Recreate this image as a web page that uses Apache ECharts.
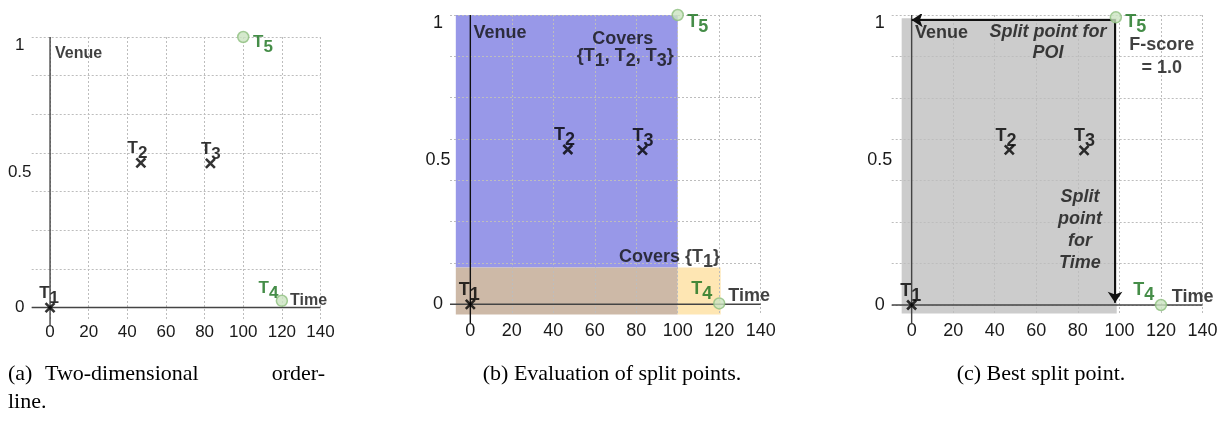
<!DOCTYPE html>
<html>
<head>
<meta charset="utf-8">
<script src="https://cdn.jsdelivr.net/npm/echarts@6/dist/echarts.min.js"></script>
<style>
  html, body { margin: 0; padding: 0; background: #fff; }
  #chart { width: 1227px; height: 422px; }
</style>
</head>
<body>
<div id="chart"></div>
<script>
// ---- axis ticks -------------------------------------------------------
const xTickValues = [0, 20, 40, 60, 80, 100, 120, 140];
const yTickLabelValues = [0, 0.5, 1];
const yGridValues = [0, 1 / 7, 2 / 7, 3 / 7, 4 / 7, 5 / 7, 6 / 7, 1];

// ---- trajectory points (crosses) -------------------------------------
const crossNames = ['T1', 'T2', 'T3'];
const crossTime = [0, 47, 83];
const crossVenue = [0, 0.535, 0.533];

// ---- boundary points (circles), one set per panel ---------------------
const circleNames = ['T4', 'T5'];
const circleTimeA = [120, 100];
const circleVenueA = [0.025, 1];
const circleTimeB = [120, 100];
const circleVenueB = [0.003, 1];
const circleTimeC = [120, 98.3];
const circleVenueC = [0, 0.992];

// ---- coverage boxes in (b): [time from, time to, venue from, venue to] -
const coverT123 = [-7, 100, 0.127, 1];
const coverBoth = [-7, 100, -0.035, 0.127];
const coverT1 = [100, 120.7, -0.035, 0.127];

// ---- best split in (c) -------------------------------------------------
const bestRegion = [-4.8, 98.7, -0.029, 0.989];
const poiSplit = [[98.3, 0.983], [0, 0.983]];
const timeSplit = [[97.9, 0.983], [97.9, 0.008]];

// ---- layout of the three panels ---------------------------------------
const panels = [
  { grid: { left: 31.7, top: 37, width: 288.8, height: 283 }, x: [-9.5, 140], y: [-0.046, 1],
    tickFont: 17, xMargin: 4, tFont: 17, axisName: 16,
    circleTime: circleTimeA, circleVenue: circleVenueA,
    circleOffsets: [[-13.4, -12.7], [19.8, 5.7]] },
  { grid: { left: 450, top: 15, width: 310.7, height: 300 }, x: [-9.8, 140], y: [-0.037, 1],
    tickFont: 18, xMargin: 7, tFont: 18, axisName: 18,
    circleTime: circleTimeB, circleVenue: circleVenueB,
    circleOffsets: [[-17.5, -14.1], [20, 7]] },
  { grid: { left: 891.7, top: 15, width: 310.8, height: 300 }, x: [-9.6, 140], y: [-0.0345, 1],
    tickFont: 18, xMargin: 7, tFont: 18, axisName: 18,
    circleTime: circleTimeC, circleVenue: circleVenueC,
    circleOffsets: [[-17.3, -14.9], [19.8, 5.2]] }
];
const crossOffsets = [[-1, -14], [-3.4, -14], [0.5, -14]];

const SANS = '"Liberation Sans", Arial, sans-serif';
const GREEN = '#16701a';

// "T" followed by a lowered index digit
function subRich(fs, color) {
  return {
    t: { fontSize: fs, fontWeight: 'bold', fontFamily: SANS, color: color },
    s: { fontSize: fs, fontWeight: 'bold', fontFamily: SANS, color: color, padding: [10, 0, 0, 0] }
  };
}
function subText(name) { return '{t|' + name[0] + '}{s|' + name.slice(1) + '}'; }

const grids = [], xAxes = [], yAxes = [], series = [];

panels.forEach((p, i) => {
  grids.push(Object.assign({ containLabel: false }, p.grid));
  xAxes.push({
    type: 'value', gridIndex: i, min: p.x[0], max: p.x[1],
    axisLine: { show: false },
    axisTick: { show: false, customValues: xTickValues },
    axisLabel: { customValues: xTickValues, fontSize: p.tickFont, fontFamily: SANS, color: '#1a1a1a', margin: p.xMargin },
    splitLine: { show: true, lineStyle: { color: '#bdbdbd', type: [2, 2], width: 1 } }
  });
  yAxes.push({
    type: 'value', gridIndex: i, min: p.y[0], max: p.y[1],
    axisLine: { show: false },
    axisTick: { show: false, customValues: yGridValues },
    axisLabel: {
      customValues: yTickLabelValues, fontSize: p.tickFont, fontFamily: SANS, color: '#1a1a1a',
      margin: 12, align: 'center',
      formatter: v => (v === 1 ? '{lo|1}' : String(v)),
      rich: { lo: { fontSize: p.tickFont, fontFamily: SANS, color: '#1a1a1a', padding: [16, 0, 0, 0] } }
    },
    splitLine: { show: true, lineStyle: { color: '#bdbdbd', type: [2, 2], width: 1 } }
  });

  // axis lines through the origin
  series.push({
    type: 'line', xAxisIndex: i, yAxisIndex: i, silent: true, clip: false, z: 3,
    symbol: 'none', lineStyle: { color: '#444', width: 1.4 },
    data: [[p.x[0], 0], [140, 0]]
  });
  series.push({
    type: 'line', xAxisIndex: i, yAxisIndex: i, silent: true, clip: false, z: 3,
    symbol: 'none', lineStyle: { color: i === 1 ? '#111' : '#444', width: 1.4 },
    data: [[0, -0.065], [0, 1]]
  });

  // crosses
  series.push({
    type: 'scatter', xAxisIndex: i, yAxisIndex: i, z: 6, silent: true,
    symbol: 'path://M0,0L10,10M10,0L0,10', symbolSize: 9,
    itemStyle: { color: '#000', borderColor: '#000', borderWidth: 2.6 },
    label: {
      show: true, position: 'inside', formatter: d => subText(d.name), rich: subRich(p.tFont, '#000')
    },
    data: crossNames.map((n, k) => ({
      name: n, value: [crossTime[k], crossVenue[k]], label: { offset: crossOffsets[k] }
    }))
  });

  // circles
  series.push({
    type: 'scatter', xAxisIndex: i, yAxisIndex: i, z: 6, silent: true,
    symbol: 'circle', symbolSize: 11,
    itemStyle: { color: '#cbe4c1', borderColor: '#8dbf7e', borderWidth: 1.5 },
    label: {
      show: true, position: 'inside', formatter: d => subText(d.name), rich: subRich(p.tFont, GREEN)
    },
    data: circleNames.map((n, k) => ({
      name: n, value: [p.circleTime[k], p.circleVenue[k]], label: { offset: p.circleOffsets[k] }
    }))
  });
});

// shaded regions (drawn under the grid lines)
function boxSeries(idx, boxes, colors) {
  return {
    type: 'custom', xAxisIndex: idx, yAxisIndex: idx, z: -1, silent: true,
    renderItem: (params, api) => {
      const a = api.coord([api.value(0), api.value(3)]);
      const b = api.coord([api.value(1), api.value(2)]);
      return { type: 'rect', shape: { x: a[0], y: a[1], width: b[0] - a[0], height: b[1] - a[1] },
               style: { fill: colors[params.dataIndex] } };
    },
    data: boxes
  };
}
series.push(boxSeries(1, [coverT123, coverBoth, coverT1], ['#9898e8', '#cdb9a7', '#fee6b3']));
series.push(boxSeries(2, [bestRegion], ['#cccccc']));

// split arrows
series.push({
  type: 'lines', coordinateSystem: 'cartesian2d', xAxisIndex: 2, yAxisIndex: 2, z: 5, silent: true,
  symbol: ['none', 'arrow'], symbolSize: 11,
  lineStyle: { color: '#111', width: 2, opacity: 1, curveness: 0 },
  data: [{ coords: poiSplit }, { coords: timeSplit }]
});

// text annotations
function note(pos, text, opts) {
  return {
    value: pos, symbolSize: 1,
    label: Object.assign({ show: true, position: 'inside', formatter: text }, opts)
  };
}
function noteSeries(idx, items) {
  return {
    type: 'scatter', xAxisIndex: idx, yAxisIndex: idx, z: 7, silent: true, clip: false,
    itemStyle: { color: 'rgba(0,0,0,0)' },
    label: { show: true, position: 'inside', color: '#111', fontFamily: SANS, fontWeight: 'bold' },
    data: items
  };
}
const bold = fs => ({ fontSize: fs, fontWeight: 'bold', fontFamily: SANS, color: '#111' });
const italic = fs => ({ fontSize: fs, fontWeight: 'bold', fontStyle: 'italic', fontFamily: SANS, color: '#111' });

series.push(noteSeries(0, [
  note([2.6, 0.937], 'Venue', Object.assign(bold(16), { align: 'left' })),
  note([124.2, 0.025], 'Time', Object.assign(bold(16), { align: 'left' }))
]));
series.push(noteSeries(1, [
  note([1.5, 0.938], 'Venue', Object.assign(bold(18), { align: 'left' })),
  note([124.4, 0.028], 'Time', Object.assign(bold(18), { align: 'left' })),
  note([73.5, 0.916], 'Covers', bold(18)),
  note([74.7, 0.859], '{T{s|1}, T{s|2}, T{s|3}}', Object.assign(bold(18), { rich: subRich(18, '#111') })),
  note([120.4, 0.1645], 'Covers {T{s|1}}', Object.assign(bold(18), { rich: subRich(18, '#111'), align: 'right' }))
]));
series.push(noteSeries(2, [
  note([1.6, 0.938], 'Venue', Object.assign(bold(18), { align: 'left' })),
  note([125.2, 0.029], 'Time', Object.assign(bold(18), { align: 'left' })),
  note([65.6, 0.906], 'Split point for\nPOI', Object.assign(italic(18), { lineHeight: 21, align: 'center' })),
  note([120.4, 0.856], 'F-score\n= 1.0', Object.assign(bold(18), { lineHeight: 23, align: 'center' })),
  note([81.0, 0.259], 'Split\npoint\nfor\nTime', Object.assign(italic(18), { lineHeight: 22.2, align: 'center' }))
]));

// sub-figure captions
const SERIF = '"Liberation Serif", "Times New Roman", serif';
function caption(x, y, text, align) {
  return { type: 'text', x: x, y: y, silent: true,
           style: { text: text, font: '22px ' + SERIF, fill: '#000', textAlign: align || 'left', textVerticalAlign: 'middle' } };
}

const chart = echarts.init(document.getElementById('chart'), null, { renderer: 'canvas' });
chart.setOption({
  animation: false,
  backgroundColor: '#fff',
  grid: grids,
  xAxis: xAxes,
  yAxis: yAxes,
  series: series,
  graphic: [
    caption(8, 374, '(a)'),
    caption(45, 374, 'Two-dimensional'),
    caption(325, 374, 'order-', 'right'),
    caption(8, 402, 'line.'),
    caption(612, 374, '(b) Evaluation of split points.', 'center'),
    caption(1041, 374, '(c) Best split point.', 'center')
  ]
});
</script>
</body>
</html>
